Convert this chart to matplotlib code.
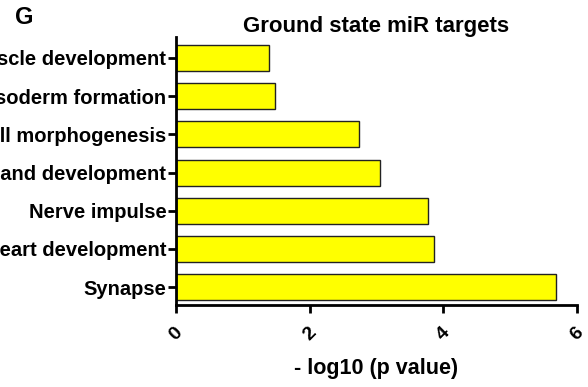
import matplotlib
matplotlib.use('Agg')
import matplotlib.pyplot as plt

# GO terms enriched among ground state miR targets
terms = ['Synapse', 'Heart development', 'Nerve impulse', 'Gland development',
         'Cell morphogenesis', 'Mesoderm formation', 'Muscle development']
neg_log_p = [5.69, 3.86, 3.77, 3.05, 2.74, 1.48, 1.39]
x_ticks = [0, 2, 4, 6]

plt.rcParams['font.family'] = ['Liberation Sans', 'DejaVu Sans']
plt.rcParams['font.weight'] = 'bold'

fig = plt.figure(figsize=(5.88, 3.87), dpi=100)
ax = fig.add_axes([176 / 588, 1 - 305 / 387, 401 / 588, 268 / 387])

pos = list(range(len(terms)))
ax.barh(pos, neg_log_p, height=0.68, color='#ffff00', edgecolor='#222222', linewidth=1.0)

ax.set_xlim(0, 6)
ax.set_ylim(-0.47, 6.55)
ax.set_yticks(pos)
ax.set_yticklabels(terms, fontsize=14.5, fontweight='bold')
ax.set_xticks(x_ticks)
ax.set_xticklabels([str(t) for t in x_ticks], fontsize=14, fontweight='bold',
                   rotation=45, ha='center', va='top')

for side in ['top', 'right']:
    ax.spines[side].set_visible(False)
for side in ['left', 'bottom']:
    ax.spines[side].set_linewidth(2)
ax.tick_params(axis='both', direction='out', length=6, width=2, pad=1)
ax.tick_params(axis='x', pad=8)

ax.set_xlabel('- log10 (p value)', fontsize=15.5, fontweight='bold', labelpad=10)
ax.set_title('Ground state miR targets', fontsize=16, fontweight='bold', pad=3)
fig.text(24 / 588, 1 - 17 / 387, 'G', fontsize=17, fontweight='bold', ha='center', va='center')

fig.savefig('out.png', dpi=100)
